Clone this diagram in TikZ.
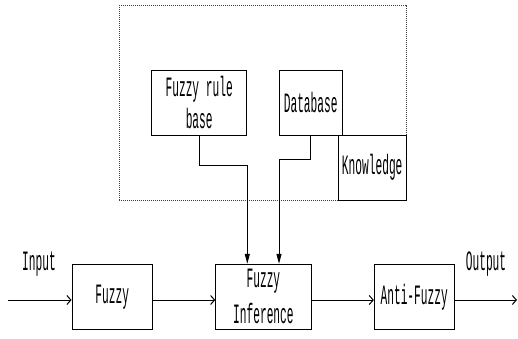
\documentclass[tikz,border=0pt]{standalone}
\usepackage{fontspec}
\setmainfont[FakeStretch=0.4]{Liberation Mono}
\usetikzlibrary{arrows.meta}
\begin{document}
\begin{tikzpicture}[x=1pt,y=-1pt,
  every node/.style={font=\fontsize{28}{32}\selectfont, inner sep=0pt},
  blk/.style={draw, line width=1pt},
  openarr/.style={line width=1pt, -{Straight Barb[length=4pt,width=9pt]}},
  triarr/.style={line width=1pt, -{Triangle[length=10pt,width=5pt]}},
  dotbox/.style={draw=black!75, densely dotted, line width=1pt}]
\useasboundingbox (0,0) rectangle (518,338);
% dotted knowledge area
\draw[dotbox] (119.3,5.3) rectangle (406,200);
% upper boxes
\node[blk, minimum width=95pt, minimum height=65pt, align=center] (rule) at (199.2,102.5) {Fuzzy rule\\base};
\node[blk, minimum width=63.3pt, minimum height=65pt] (db) at (310.7,102.5) {Database};
\node[blk, minimum width=67.7pt, minimum height=65pt] (kn) at (372.2,167.5) {Knowledge};
% lower boxes
\node[blk, minimum width=80.3pt, minimum height=65pt] (fz) at (112.2,296.8) {Fuzzy};
\node[blk, minimum width=95.3pt, minimum height=65pt, align=center, font=\fontsize{28}{36}\selectfont] (inf) at (263.4,296.8) {Fuzzy\\Inference};
\node[blk, minimum width=79.7pt, minimum height=65pt] (af) at (414.2,296.8) {Anti-Fuzzy};
% labels
\node (inlab) at (39,264) {Input};
\node (outlab) at (486,264) {Output};
% free ends
\coordinate (inp) at (8,300);
\coordinate (outp) at (517,300);
\coordinate (r1) at (247.3,165.7);
\coordinate (d1) at (279,159.3);
% connectors
\draw[openarr] (inp) -- ([yshift=-3.2pt]fz.west);
\draw[openarr] ([yshift=-3.2pt]fz.east) -- ([yshift=-3.2pt]inf.west);
\draw[openarr] ([yshift=-3.2pt]inf.east) -- ([yshift=-3.2pt]af.west);
\draw[openarr] ([yshift=-3.2pt]af.east) -- (outp);
\draw[triarr] (rule.south) |- (r1) -- (r1 |- inf.north);
\draw[triarr] (db.south) |- (d1) -- (d1 |- inf.north);
\end{tikzpicture}
\end{document}
